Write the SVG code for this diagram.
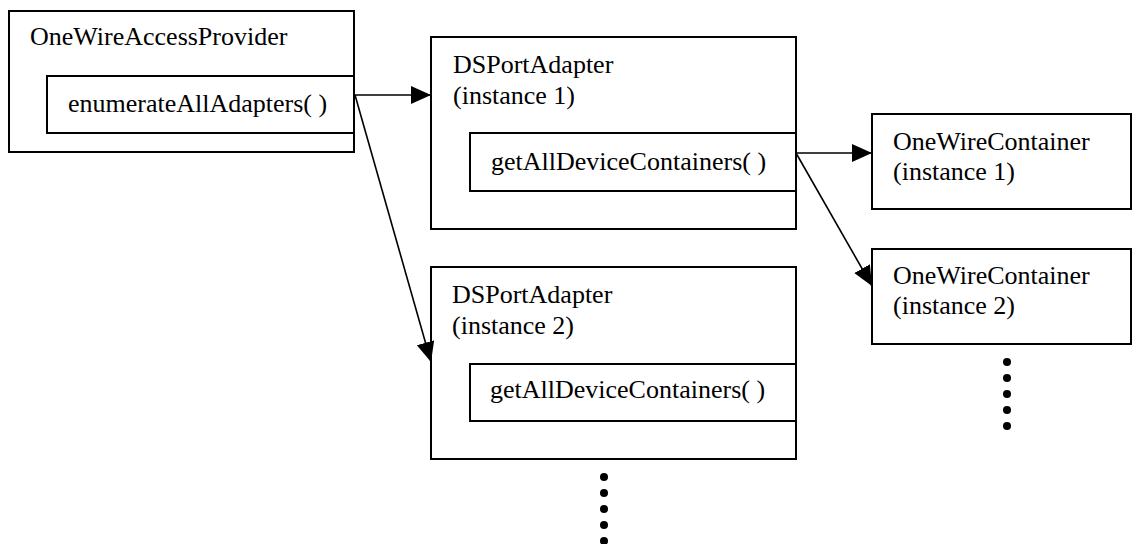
<svg xmlns="http://www.w3.org/2000/svg" width="1132" height="544" viewBox="0 0 1132 544">
<style>
.box{fill:#fff;stroke:#000;stroke-width:2}
.t{font-family:"Liberation Serif","Times New Roman",serif;font-size:26px;fill:#000}
.c{stroke:#000;stroke-width:1.6;fill:none}
.dot{fill:#000}
</style>
<defs>
<marker id="ah" markerUnits="userSpaceOnUse" markerWidth="22" markerHeight="20" refX="20" refY="9" orient="auto">
<path d="M0,0 L20,9 L0,18 Z" fill="#000"/>
</marker>
</defs>
<rect width="1132" height="544" fill="#fff"/>
<g id="provider">
<rect class="box" x="9" y="11" width="345" height="141"/>
<text class="t" x="30" y="45">OneWireAccessProvider</text>
<rect class="box" x="47" y="76" width="307" height="57"/>
<text class="t" x="68" y="112">enumerateAllAdapters( )</text>
</g>
<g id="adapter1">
<rect class="box" x="431" y="37" width="365" height="192"/>
<text class="t" x="453" y="73">DSPortAdapter</text>
<text class="t" x="453" y="104">(instance 1)</text>
<rect class="box" x="470" y="133" width="326" height="58"/>
<text class="t" x="491" y="170">getAllDeviceContainers( )</text>
</g>
<g id="adapter2">
<rect class="box" x="431" y="267" width="365" height="192"/>
<text class="t" x="452" y="303">DSPortAdapter</text>
<text class="t" x="452" y="334">(instance 2)</text>
<rect class="box" x="470" y="364" width="326" height="57"/>
<text class="t" x="490" y="398">getAllDeviceContainers( )</text>
</g>
<g id="container1">
<rect class="box" x="872" y="114" width="259" height="95"/>
<text class="t" x="893" y="150">OneWireContainer</text>
<text class="t" x="893" y="180">(instance 1)</text>
</g>
<g id="container2">
<rect class="box" x="872" y="249" width="259" height="95"/>
<text class="t" x="893" y="284">OneWireContainer</text>
<text class="t" x="893" y="314">(instance 2)</text>
</g>
<g id="ellipsis-adapters">
<circle class="dot" cx="604" cy="477" r="4"/>
<circle class="dot" cx="604" cy="493" r="4"/>
<circle class="dot" cx="604" cy="509" r="4"/>
<circle class="dot" cx="604" cy="525" r="4"/>
<circle class="dot" cx="604" cy="541" r="4"/>
</g>
<g id="ellipsis-containers">
<circle class="dot" cx="1007" cy="362" r="4"/>
<circle class="dot" cx="1007" cy="378" r="4"/>
<circle class="dot" cx="1007" cy="394" r="4"/>
<circle class="dot" cx="1007" cy="410" r="4"/>
<circle class="dot" cx="1007" cy="426" r="4"/>
</g>
<g id="connectors">
<line class="c" x1="355" y1="95" x2="431" y2="95" marker-end="url(#ah)"/>
<line class="c" x1="355" y1="95" x2="431" y2="362" marker-end="url(#ah)"/>
<line class="c" x1="796" y1="153" x2="872" y2="153" marker-end="url(#ah)"/>
<line class="c" x1="796" y1="153" x2="872" y2="286" marker-end="url(#ah)"/>
</g>
</svg>
